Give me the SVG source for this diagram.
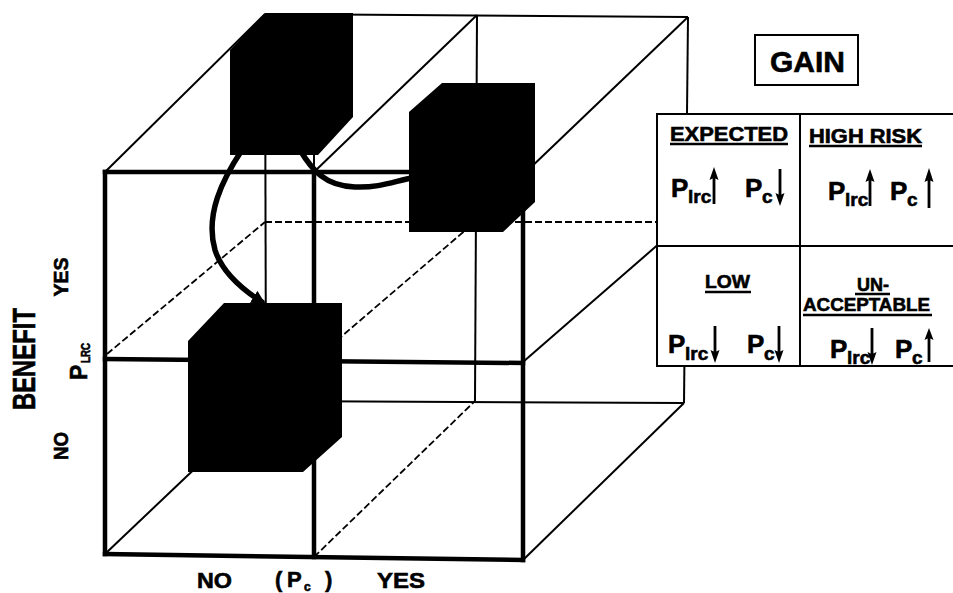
<svg xmlns="http://www.w3.org/2000/svg" xmlns:xlink="http://www.w3.org/1999/xlink" width="953" height="593" viewBox="0 0 953 593">
  <style>
    .front { stroke: #000; stroke-width: 4.5; fill: none; stroke-linecap: square; }
    .thin { stroke: #000; stroke-width: 2; fill: none; }
    .dash { stroke: #000; stroke-width: 1.8; fill: none; stroke-dasharray: 7 3; }
    .box { fill: #000; stroke: none; }
    .link { stroke: #000; stroke-width: 5.5; fill: none; stroke-linecap: round; }
    .grid { stroke: #000; stroke-width: 2; fill: none; }
    .t { font-family: "Liberation Sans", Arial, sans-serif; font-weight: bold; fill: #000; stroke: #000; stroke-width: 0.6; }
    .ul { stroke: #000; stroke-width: 2.6; fill: none; }
  </style>
  <defs>
    <!-- up arrow, tip at origin, 37 px long -->
    <path id="arrow-up" d="M0,0 L4.5,13 L1.4,11.5 L1.4,37 L-1.4,37 L-1.4,11.5 L-4.5,13 Z" fill="#000"/>
    <marker id="bighead" viewBox="0 0 10 10" refX="7" refY="5" markerUnits="userSpaceOnUse" markerWidth="14" markerHeight="14" orient="auto">
      <path d="M0,0 L10,5 L0,10 Z" fill="#000"/>
    </marker>
  </defs>
  <rect width="953" height="593" fill="#fff"/>

  <!-- wire frame of the 2x2x2 block -->
  <g id="frame">
    <!-- back and top edges -->
    <line class="thin" x1="105" y1="172" x2="265" y2="14"/>
    <line class="thin" x1="265" y1="14" x2="688" y2="17"/>
    <line class="thin" x1="314" y1="172" x2="477" y2="15"/>
    <line class="thin" x1="526" y1="172" x2="688" y2="17"/>
    <line class="thin" x1="688" y1="17" x2="684" y2="403"/>
    <line class="thin" x1="265" y1="14" x2="266" y2="401"/>
    <line class="thin" x1="477" y1="15" x2="475" y2="401"/>
    <line class="thin" x1="266" y1="401" x2="684" y2="403"/>
    <line class="thin" x1="314" y1="155" x2="314" y2="172"/>
    <!-- bottom face -->
    <line class="thin" x1="105" y1="554" x2="266" y2="401"/>
    <line class="dash" x1="314" y1="557" x2="475" y2="401"/>
    <line class="thin" x1="523" y1="560" x2="684" y2="403"/>
    <!-- middle plane -->
    <line class="dash" x1="107" y1="354" x2="265" y2="222"/>
    <line class="dash" x1="265" y1="222" x2="660" y2="222"/>
    <line class="dash" x1="314" y1="360" x2="475" y2="222"/>
    <line class="thin" x1="523" y1="362" x2="684" y2="222"/>
    <!-- front face -->
    <line class="front" x1="105" y1="172" x2="523" y2="172"/>
    <line class="front" x1="105" y1="172" x2="105" y2="554"/>
    <line class="front" x1="523" y1="172" x2="523" y2="560"/>
    <line class="front" x1="105" y1="554" x2="523" y2="560"/>
    <line class="front" x1="314" y1="172" x2="314" y2="557"/>
    <line class="front" x1="105" y1="359" x2="523" y2="363"/>
  </g>

  <!-- solid blocks -->
  <g id="node-upper-left">
    <polygon class="box" points="265,13 353,13 353,117 318,155 230,155 230,50"/>
  </g>
  <g id="node-upper-right">
    <polygon class="box" points="442,83 535,83 535,202 503,232 409,232 409,112"/>
  </g>
  <g id="node-lower">
    <polygon class="box" points="224,303 342,303 342,437 303,472 188,472 188,341"/>
  </g>

  <!-- transitions between blocks -->
  <g id="connectors">
    <path class="link" d="M242,150 C222,180 205,215 215,250 C222,272 240,288 262,302" marker-end="url(#bighead)"/>
    <path class="link" d="M300,150 C312,170 325,186 355,187 C380,188 395,181 412,178"/>
  </g>

  <!-- legend box -->
  <g id="gain">
    <rect x="755" y="35" width="103" height="50" fill="#fff" stroke="#000" stroke-width="2"/>
    <text class="t" x="770" y="72" font-size="30" textLength="75" lengthAdjust="spacingAndGlyphs">GAIN</text>
  </g>

  <g id="quadrants">
    <rect x="657" y="114" width="310" height="252" fill="#fff" stroke="#000" stroke-width="2"/>
    <line class="grid" x1="800" y1="114" x2="800" y2="366"/>
    <line class="grid" x1="657" y1="246" x2="953" y2="246"/>

    <g id="cell-expected">
      <text class="t" x="670" y="141" font-size="20" textLength="118" lengthAdjust="spacingAndGlyphs">EXPECTED</text>
      <line class="ul" x1="670" y1="144" x2="788" y2="144"/>
      <text class="t" x="671" y="197" font-size="26">P</text>
      <text class="t" x="688" y="203" font-size="19">lrc</text>
      <use xlink:href="#arrow-up" transform="translate(714,167)"/>
      <text class="t" x="745" y="197" font-size="26">P</text>
      <text class="t" x="762" y="203" font-size="19">c</text>
      <use xlink:href="#arrow-up" transform="translate(780,206) scale(1,-1)"/>
    </g>

    <g id="cell-high-risk">
      <text class="t" x="809" y="143" font-size="20" textLength="113" lengthAdjust="spacingAndGlyphs">HIGH RISK</text>
      <line class="ul" x1="809" y1="146" x2="922" y2="146"/>
      <text class="t" x="828" y="200" font-size="26">P</text>
      <text class="t" x="845" y="206" font-size="19">lrc</text>
      <use xlink:href="#arrow-up" transform="translate(870,169)"/>
      <text class="t" x="890" y="200" font-size="26">P</text>
      <text class="t" x="907" y="206" font-size="19">c</text>
      <use xlink:href="#arrow-up" transform="translate(929,168) scale(1,1.08)"/>
    </g>

    <g id="cell-low">
      <text class="t" x="705" y="288" font-size="19" textLength="45" lengthAdjust="spacingAndGlyphs">LOW</text>
      <line class="ul" x1="705" y1="292" x2="751" y2="292"/>
      <text class="t" x="668" y="353" font-size="26">P</text>
      <text class="t" x="685" y="360" font-size="19">lrc</text>
      <use xlink:href="#arrow-up" transform="translate(715,363) scale(1,-1)"/>
      <text class="t" x="747" y="353" font-size="26">P</text>
      <text class="t" x="764" y="360" font-size="19">c</text>
      <use xlink:href="#arrow-up" transform="translate(779,363) scale(1,-1)"/>
    </g>

    <g id="cell-unacceptable">
      <text class="t" x="857" y="291" font-size="19" textLength="32" lengthAdjust="spacingAndGlyphs">UN-</text>
      <line class="ul" x1="855" y1="294" x2="890" y2="294"/>
      <text class="t" x="803" y="311" font-size="19" textLength="127" lengthAdjust="spacingAndGlyphs">ACCEPTABLE</text>
      <line class="ul" x1="803" y1="315" x2="932" y2="315"/>
      <text class="t" x="830" y="358" font-size="26">P</text>
      <text class="t" x="847" y="364" font-size="19">lrc</text>
      <use xlink:href="#arrow-up" transform="translate(872,365) scale(1,-1)"/>
      <text class="t" x="895" y="358" font-size="26">P</text>
      <text class="t" x="912" y="364" font-size="19">c</text>
      <use xlink:href="#arrow-up" transform="translate(929,328) scale(1,0.92)"/>
    </g>
  </g>

  <!-- axis labels -->
  <g id="axis-benefit">
    <text class="t" transform="translate(35,359) rotate(-90)" text-anchor="middle" font-size="32" textLength="102" lengthAdjust="spacingAndGlyphs">BENEFIT</text>
    <text class="t" transform="translate(68,277) rotate(-90)" text-anchor="middle" font-size="21" textLength="39" lengthAdjust="spacingAndGlyphs">YES</text>
    <text class="t" transform="translate(68,446) rotate(-90)" text-anchor="middle" font-size="21" textLength="28" lengthAdjust="spacingAndGlyphs">NO</text>
    <text class="t" transform="translate(87,380) rotate(-90)" font-size="23">P</text>
    <text class="t" transform="translate(90,363) rotate(-90)" font-size="12.5" textLength="20" lengthAdjust="spacingAndGlyphs">LRC</text>
  </g>
  <g id="axis-pc">
    <text class="t" x="197" y="588" font-size="22" textLength="35" lengthAdjust="spacingAndGlyphs">NO</text>
    <text class="t" x="275" y="587" font-size="22">(</text>
    <text class="t" x="287" y="587" font-size="22">P</text>
    <text class="t" x="304" y="591" font-size="12">c</text>
    <text class="t" x="325" y="587" font-size="22">)</text>
    <text class="t" x="377" y="588" font-size="22" textLength="48" lengthAdjust="spacingAndGlyphs">YES</text>
  </g>
</svg>
